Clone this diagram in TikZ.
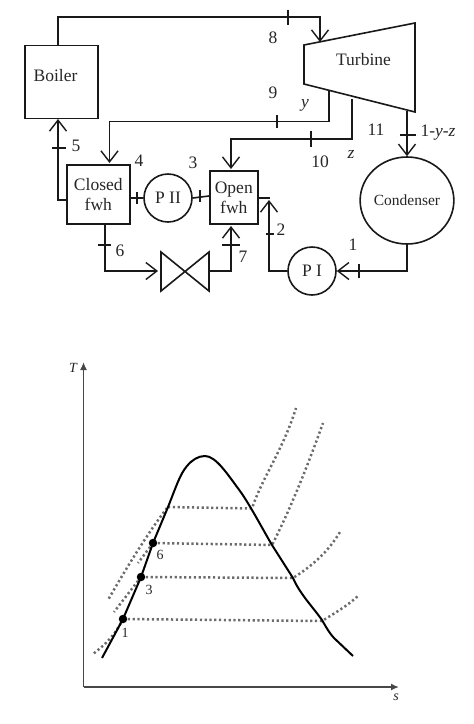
\documentclass[tikz,border=0pt]{standalone}
\usepackage{fontspec}
\setmainfont{Liberation Serif}
\usetikzlibrary{arrows.meta,shapes.geometric,calc}
\tikzset{
  x=1pt,y=-1pt,
  lab/.style={inner sep=0pt,font=\fontsize{17.5}{19}\selectfont,text=black!85},
  unit/.style={draw=black!90,line width=1.6pt,inner sep=0pt,font=\fontsize{17.5}{20}\selectfont,align=center,text=black!85},
  boxunit/.style={unit,rectangle,anchor=north west},
  pump/.style={unit,circle,minimum size=48pt},
  pipe/.style={draw=black!90,line width=1.6pt,line join=miter},
  flow/.style={pipe,-{Straight Barb[length=11pt,width=17pt,line width=1.4pt]}},
  tick/.style={draw=black!90,line width=1.4pt},
  sat/.style={draw=black,line width=2pt,line join=round},
  iso/.style={draw=black!58,line width=2.5pt,dash pattern=on 2.2pt off 2.6pt},
  axis/.style={draw=black!72,line width=1.6pt,-{Latex[length=8pt,width=7pt]}},
  state/.style={circle,fill=black,inner sep=0pt,minimum size=8.5pt},
  small/.style={lab,font=\fontsize{14}{16}\selectfont},
}
\begin{document}
\begin{tikzpicture}
\useasboundingbox (0,0) rectangle (474,724);
% units
\node[boxunit,minimum width=73pt,minimum height=73pt] (boiler) at (24,44.5) {};
\node[lab] (boilerT) at (55.5,75.5) {Boiler};
\draw[unit] (304,45) coordinate (t1) -- (415,23) coordinate (t2) -- (415,112) coordinate (t3) -- (304,84) coordinate (t4) -- cycle;
\node[lab] (turbine) at (363.5,60) {Turbine};
\node[boxunit,minimum width=63pt,minimum height=59pt] (closed) at (66,164) {Closed\\fwh};
\node[boxunit,minimum width=48pt,minimum height=53pt] (open) at (209,170) {Open\\fwh};
\node[pump] (p2) at (168,198) {P II};
\node[pump] (p1) at (312,271) {P I};
\node[unit,ellipse,minimum width=81pt,minimum height=87pt,font=\fontsize{15.5}{18}\selectfont] (cond) at (407,200.5) {Condenser};
\draw[pipe] (161,252) coordinate (v1) -- (209,291) coordinate (v2) -- (209,252) coordinate (v3) -- (161,291) coordinate (v4) -- cycle;
% connection points
\coordinate (bOut) at (58,44.5);
\coordinate (bIn) at (58,119);
\coordinate (bend8) at (320,17);
\coordinate (tIn) at (320,42);
\coordinate (tOut9) at (329,90);
\coordinate (bend9) at (109.5,121.5);
\coordinate (cIn) at (109.5,163);
\coordinate (tOut10) at (352,99);
\coordinate (bend10) at (231,139);
\coordinate (oIn) at (231,169);
\coordinate (tOut11) at (407,111);
\coordinate (cOut) at (407,244);
\coordinate (bend1) at (407,271);
\coordinate (bend2) at (269,271);
\coordinate (oIn2) at (269,200);
\coordinate (cLeft) at (66,200);
\coordinate (bend5) at (58,200);
\coordinate (cBot) at (105,223);
\coordinate (bend6) at (105,271);
\coordinate (vIn) at (158,271);
\coordinate (vOut) at (209,271);
\coordinate (bend7) at (231,271);
\coordinate (oBot) at (231,226);
% connectors
\draw[flow] (bOut) |- (bend8) -- (tIn);
\draw[flow] (tOut9) |- (bend9) -- (cIn);
\draw[flow] (tOut10) |- (bend10) -- (oIn);
\draw[flow] (tOut11) -- (cond.north);
\draw[flow] (cOut) -- (bend1) -- (p1.east);
\draw[flow] (p1.west) -- (bend2) -- (oIn2);
\draw[pipe] (257,198) -- (270,198);
\draw[flow] (cLeft) -- (bend5) -- (bIn);
\draw[flow] (cBot) -- (bend6) -- (vIn);
\draw[flow] (vOut) -- (bend7) -- (oBot);
\draw[pipe] (129,198) -- (p2.west);
\draw[pipe] (p2.east) -- (209,196);
% ticks
\draw[tick] (288,10) -- (288,25);
\draw[tick] (277,115) -- (277,128);
\draw[tick] (311,131) -- (311,147);
\draw[tick] (400,135) -- (416,135);
\draw[tick] (359,264) -- (359,278);
\draw[tick] (266,234) -- (274,234);
\draw[tick] (52,148) -- (66,148);
\draw[tick] (98,245) -- (111,245);
\draw[tick] (222,245) -- (240,245);
\draw[tick] (137,192) -- (137,204);
\draw[tick] (200,190) -- (200,202);
% labels
\node[lab] (l8) at (273,38) {8};
\node[lab] (l9) at (273,93) {9};
\node[lab] (ly) at (305,105) {\itshape y};
\node[lab] (lz) at (351,154) {\itshape z};
\node[lab] (l10) at (320,162) {10};
\node[lab] (l11) at (376,130) {11};
\node[lab] (lout) at (438,133) {1-\textit{y}-\textit{z}};
\node[lab] (l1) at (353,245) {1};
\node[lab] (l2) at (281,230) {2};
\node[lab] (l3) at (193,163) {3};
\node[lab] (l4) at (139,161) {4};
\node[lab] (l5) at (76,146) {5};
\node[lab] (l6) at (120,251) {6};
\node[lab] (l7) at (243,257) {7};
% T-s diagram
\coordinate (origin) at (83.5,687);
\coordinate (tTop) at (83.5,362);
\coordinate (sEnd) at (399,687);
\draw[axis] (origin) -- (tTop);
\draw[axis] (origin) -- (sEnd);
\node[small,font=\fontsize{14}{16}\selectfont\itshape] (T) at (73,368) {T};
\node[small,font=\fontsize{14}{16}\selectfont\itshape] (S) at (396,697) {s};
% isobars
\draw[iso] (168,507) -- (252,508.5) .. controls (262,478) and (283,450) .. (296,408);
\draw[iso] (153,543) -- (272,545) .. controls (290,510) and (308,465) .. (323,423);
\draw[iso] (141,577) -- (293,578) .. controls (312,566) and (328,552) .. (340,532);
\draw[iso] (123,619) -- (322,621) .. controls (335,613) and (347,606) .. (358,596);
\draw[iso] (167,508) .. controls (150,530) and (128,565) .. (108,600);
\draw[iso] (153,543) -- (138,563);
\draw[iso] (141,577) -- (114,612);
\draw[iso] (123,619) .. controls (115,635) and (105,645) .. (93,654);
% saturation dome
\draw[sat] (102,658) -- (123,619) -- (141,577) -- (153,543) -- (168,507) .. controls (176,487) and (180,474) .. (187,466) .. controls (192,460) and (198,456) .. (205,456) .. controls (216,456) and (228,475) .. (240,491) .. controls (250,505) and (262,528) .. (272,545) -- (293,578) .. controls (300,594) and (312,606) .. (322,620) .. controls (326,627) and (330,634) .. (334,638) -- (353,656);
\node[state] (s1) at (123,619) {};
\node[state] (s3) at (141,577) {};
\node[state] (s6) at (153,543) {};
\node[small] (n1) at (125,633) {1};
\node[small] (n3) at (149,590) {3};
\node[small] (n6) at (160,555) {6};
\end{tikzpicture}
\end{document}
